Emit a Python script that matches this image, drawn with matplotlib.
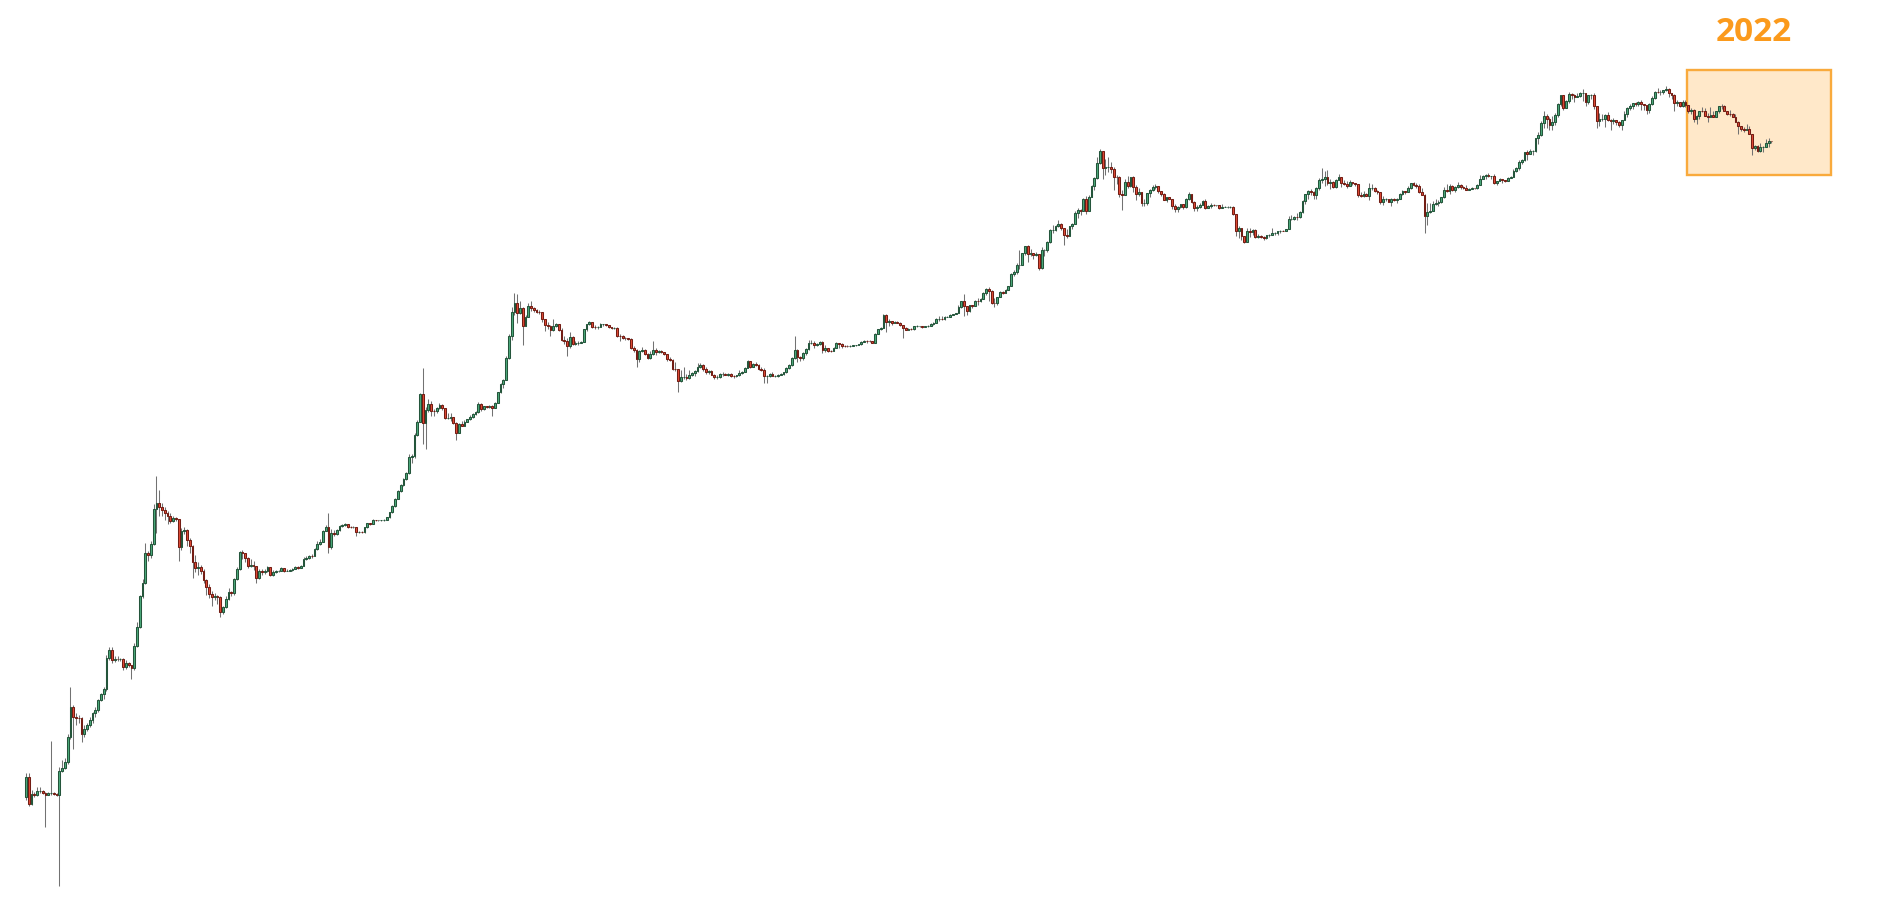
import numpy as np
import matplotlib
matplotlib.use("Agg")
import matplotlib.pyplot as plt
from matplotlib.patches import Rectangle

# Weekly BTC/USD candles, one tuple per week: (close, high, low).
# Weeks start on Mondays; the first week is 2010-07-12. Each week opens at
# the previous week's close.
first_open = 0.058

weeks_2010 = [
    (0.085, 0.092, 0.055), (0.050, 0.092, 0.048), (0.061, 0.066, 0.049), (0.0605, 0.064, 0.058),
    (0.065, 0.070, 0.059), (0.0655, 0.070, 0.063), (0.0625, 0.067, 0.061), (0.0605, 0.064, 0.032),
    (0.062, 0.0635, 0.060), (0.0622, 0.174, 0.060), (0.0615, 0.064, 0.060), (0.0605, 0.063, 0.059),
    (0.0964, 0.105, 0.010), (0.1016, 0.120, 0.094), (0.1145, 0.125, 0.100), (0.190, 0.200, 0.110),
    (0.338, 0.500, 0.180), (0.277, 0.350, 0.150), (0.275, 0.300, 0.240), (0.272, 0.290, 0.250),
    (0.198, 0.280, 0.170), (0.222, 0.240, 0.190), (0.238, 0.250, 0.210), (0.263, 0.280, 0.230),
    (0.300, 0.310, 0.250),
]
weeks_2011 = [
    (0.32, 0.34, 0.28), (0.39, 0.40, 0.31), (0.436, 0.45, 0.38), (0.48, 0.50, 0.40),
    (0.885, 0.95, 0.47), (1.04, 1.10, 0.86), (0.857, 1.10, 0.80), (0.874, 0.93, 0.82),
    (0.868, 0.92, 0.84), (0.87, 0.90, 0.84), (0.741, 0.90, 0.70), (0.80, 0.86, 0.72),
    (0.776, 0.82, 0.75), (0.727, 0.78, 0.585), (1.13, 1.20, 0.70), (1.65, 1.80, 1.10),
    (3.02, 3.10, 1.60), (3.87, 4.2, 2.9), (6.99, 8.5, 3.8), (6.72, 7.3, 6.0),
    (8.34, 9.0, 6.4), (16.7, 18.6, 8.3), (18.7, 32.0, 10.5), (17.4, 24.3, 14.5),
    (16.5, 19.0, 14.5), (15.6, 17.5, 13.5), (14.7, 16.2, 12.5), (13.2, 15.5, 12.8),
    (13.9, 14.5, 12.9), (13.7, 14.3, 13.2), (7.96, 13.6, 6.0), (10.8, 11.5, 7.5),
    (11.0, 11.8, 10.2), (9.08, 11.2, 8.0), (8.13, 9.4, 7.0), (5.86, 8.3, 4.3),
    (5.20, 6.8, 4.8), (5.35, 5.9, 4.6), (4.94, 5.6, 4.7), (4.11, 5.1, 3.9),
    (3.58, 4.2, 3.1), (3.12, 3.8, 2.9), (2.96, 3.3, 2.5), (3.02, 3.2, 2.8),
    (2.98, 3.1, 2.6), (2.19, 3.0, 2.0), (2.45, 2.5, 2.1), (2.83, 3.0, 2.4),
    (3.24, 3.5, 2.8), (3.18, 3.3, 3.0), (4.19, 4.3, 3.1), (5.11, 5.3, 4.1),
]
weeks_2012 = [
    (7.13, 7.3, 5.0), (7.0, 7.4, 6.2), (6.34, 7.1, 5.9), (5.48, 6.5, 5.2),
    (5.6, 6.3, 5.3), (5.44, 6.0, 5.0), (4.33, 5.5, 3.9), (4.94, 5.1, 4.2),
    (4.84, 5.1, 4.6), (4.95, 5.1, 4.7), (5.31, 5.4, 4.8), (4.60, 5.35, 4.5),
    (4.87, 5.0, 4.5), (4.90, 5.0, 4.75), (4.94, 5.05, 4.8), (5.20, 5.3, 4.9),
    (4.97, 5.2, 4.85), (4.98, 5.1, 4.9), (5.00, 5.1, 4.9), (5.14, 5.2, 4.95),
    (5.30, 5.4, 5.1), (5.25, 5.4, 5.1), (5.48, 5.6, 5.2), (6.25, 6.5, 5.4),
    (6.41, 6.6, 6.1), (6.63, 6.8, 6.3), (6.60, 6.9, 6.4), (7.61, 7.8, 6.6),
    (8.34, 8.9, 7.5), (8.79, 9.3, 8.2), (10.8, 11.0, 8.7), (11.7, 12.2, 10.8),
    (7.87, 15.4, 7.1), (10.5, 11.3, 7.6), (10.2, 11.0, 9.9), (11.1, 11.3, 10.0),
    (12.0, 12.2, 10.9), (12.2, 12.5, 11.8), (12.4, 12.6, 12.0), (11.8, 12.5, 11.5),
    (11.7, 12.0, 11.5), (11.7, 11.9, 11.5), (10.6, 11.8, 9.9), (10.7, 10.9, 10.4),
    (10.6, 10.9, 10.4), (11.7, 11.8, 10.5), (12.6, 12.7, 11.6), (12.5, 12.7, 12.3),
    (13.5, 13.7, 12.4), (13.4, 13.6, 13.2), (13.5, 13.6, 13.3), (13.5, 13.6, 13.3),
]
weeks_2013 = [
    (13.6, 13.8, 13.3), (14.2, 14.4, 13.5), (15.7, 15.9, 14.1), (17.6, 18.2, 15.5),
    (20.5, 20.8, 17.5), (24.0, 24.5, 20.3), (26.7, 27.5, 23.5), (30.0, 31.0, 26.5),
    (33.8, 34.5, 29.5), (46.2, 49, 33.5), (47.5, 49, 41), (71.8, 74, 46),
    (93.3, 96, 70), (161, 165, 93), (91.5, 267, 60), (117, 125, 55),
    (131, 145, 112), (116, 140, 104), (114, 120, 105), (121, 125, 110),
    (130, 134, 119), (121, 131, 118), (99.7, 123, 99), (101, 110, 98),
    (102, 111, 95), (91.5, 103, 89), (74.2, 92, 65), (89.2, 91, 74),
    (86.3, 95, 85), (93.0, 96, 86), (97.8, 99, 93), (102, 106, 97),
    (108, 110, 101), (112, 115, 107), (132, 138, 111), (119, 134, 114),
    (126, 128, 118), (125, 128, 123), (127, 130, 122), (123, 130, 104),
    (136, 138, 122), (166, 168, 135), (196, 200, 165), (212, 216, 180),
    (325, 340, 210), (504, 520, 320), (809, 900, 470), (959, 1167, 760),
    (788, 1150, 650), (869, 1000, 780), (614, 900, 422), (738, 760, 610),
]
weeks_2014 = [
    (910, 960, 730), (869, 1000, 830), (841, 900, 800), (813, 860, 790),
    (803, 840, 780), (700, 810, 660), (626, 705, 560), (610, 660, 580),
    (567, 620, 500), (618, 700, 560), (634, 650, 600), (567, 640, 560),
    (466, 590, 460), (459, 500, 430), (414, 480, 340), (491, 540, 400),
    (430, 505, 420), (442, 455, 420), (442, 455, 425), (448, 455, 435),
    (574, 580, 445), (634, 640, 560), (659, 680, 620), (606, 665, 590),
    (598, 620, 580), (606, 612, 580), (634, 650, 600), (634, 640, 615),
    (624, 635, 610), (600, 625, 590), (588, 600, 575), (590, 600, 575),
    (501, 600, 490), (500, 520, 460), (485, 510, 475), (480, 490, 465),
    (477, 485, 470), (400, 480, 390), (385, 415, 370), (320, 390, 275),
    (378, 385, 300), (385, 405, 370), (354, 390, 350), (325, 360, 320),
    (355, 375, 320), (385, 460, 350), (368, 395, 350), (378, 385, 360),
    (365, 385, 360), (354, 370, 345), (320, 355, 310), (317, 335, 310),
]
weeks_2015 = [
    (264, 320, 260), (262, 300, 255), (209, 265, 166), (226, 260, 205),
    (226, 275, 215), (222, 240, 212), (234, 260, 215), (244, 250, 230),
    (254, 260, 230), (274, 296, 250), (285, 298, 270), (262, 290, 255),
    (247, 275, 240), (253, 260, 240), (236, 260, 232), (223, 240, 215),
    (226, 236, 217), (239, 243, 220), (240, 246, 230), (236, 245, 232),
    (240, 242, 230), (230, 241, 227), (229, 233, 220), (234, 236, 226),
    (244, 256, 230), (250, 255, 240), (270, 273, 250), (310, 315, 266),
    (275, 310, 270), (289, 295, 274), (285, 300, 280), (265, 290, 260),
    (260, 275, 255), (230, 267, 200), (230, 235, 200), (240, 241, 225),
    (230, 246, 228), (231, 235, 225), (234, 240, 225), (240, 242, 235),
    (246, 248, 236), (270, 273, 244), (285, 290, 265), (325, 335, 280),
    (384, 500, 320), (330, 390, 300), (325, 340, 310), (362, 370, 315),
    (390, 400, 345), (435, 470, 385), (440, 465, 430), (420, 460, 400),
]
weeks_2016 = [
    (430, 440, 415), (448, 460, 425), (382, 455, 360), (400, 420, 365),
    (376, 400, 365), (374, 380, 365), (400, 405, 372), (438, 445, 400),
    (432, 440, 400), (416, 440, 400), (414, 420, 405), (410, 418, 405),
    (417, 420, 405), (420, 425, 410), (421, 424, 417), (429, 432, 418),
    (452, 455, 426), (460, 470, 445), (459, 464, 440), (457, 462, 448),
    (442, 457, 435), (528, 530, 438), (576, 580, 525), (590, 600, 570),
    (765, 780, 590), (670, 770, 550), (675, 705, 615), (650, 680, 630),
    (664, 680, 645), (655, 675, 645), (624, 660, 615), (587, 630, 480),
    (570, 600, 565), (581, 585, 565), (574, 585, 565), (608, 612, 570),
    (609, 625, 600), (610, 612, 600), (601, 612, 594), (612, 616, 600),
    (617, 620, 606), (641, 645, 614), (655, 660, 630), (702, 720, 655),
    (704, 740, 680), (703, 745, 690), (730, 750, 690), (736, 750, 725),
    (766, 775, 730), (778, 780, 755), (790, 795, 770), (892, 930, 790),
]
weeks_2017 = [
    (1000, 1005, 880), (910, 1150, 750), (822, 910, 760), (921, 930, 815),
    (915, 925, 880), (1013, 1030, 910), (998, 1070, 930), (1052, 1060, 990),
    (1180, 1200, 1050), (1270, 1290, 1130), (1230, 1330, 1000), (970, 1250, 950),
    (960, 1060, 890), (1080, 1090, 930), (1190, 1210, 1075), (1170, 1215, 1150),
    (1240, 1260, 1165), (1350, 1360, 1235), (1720, 1730, 1345), (1780, 1850, 1650),
    (2040, 2100, 1700), (2050, 2760, 1900), (2570, 2600, 2050), (2950, 2980, 2480),
    (2510, 3000, 2150), (2570, 2780, 2450), (2500, 2600, 2300), (2510, 2650, 2430),
    (1930, 2550, 1840), (2750, 2900, 1900), (2760, 2800, 2450), (3220, 3270, 2620),
    (4050, 4100, 3160), (4090, 4480, 3850), (4350, 4460, 3950), (4600, 4980, 4330),
    (4200, 4700, 4050), (3700, 4240, 3000), (3600, 4100, 3500), (4380, 4400, 3580),
    (4600, 4630, 4150), (5700, 5850, 4570), (6000, 6200, 5100), (5900, 6100, 5400),
    (7400, 7600, 5900), (5950, 7900, 5600), (7800, 8100, 5850), (9700, 9800, 7700),
    (11200, 11500, 9000), (15200, 17000, 11000), (19100, 19800, 15000), (13800, 19100, 11000),
    (13900, 16500, 12000),
]
weeks_2018 = [
    (14000, 17200, 12800), (13600, 15500, 12500), (11600, 14000, 9000), (11500, 12000, 10100),
    (8200, 11800, 7800), (8100, 8900, 6000), (10400, 11000, 8000), (9600, 11800, 9300),
    (11500, 11600, 9400), (9500, 11700, 8500), (8200, 9900, 7300), (8500, 9200, 7900),
    (6900, 8500, 6500), (6900, 7500, 6500), (8350, 8400, 6600), (8900, 9100, 7800),
    (9400, 9750, 8700), (9650, 9950, 9100), (8700, 9650, 8400), (8250, 8800, 7950),
    (7350, 8400, 7250), (7700, 7750, 7050), (7500, 7800, 7400), (6500, 7000, 6150),
    (6150, 6800, 5800), (6350, 6500, 5800), (6750, 6800, 6300), (6350, 6700, 6100),
    (7400, 7600, 6300), (8200, 8500, 7300), (7050, 8250, 6900), (6300, 7150, 5900),
    (6400, 6600, 5900), (6700, 6880, 6300), (7200, 7350, 6700), (6200, 7400, 6100),
    (6500, 6580, 6200), (6700, 6850, 6250), (6600, 6750, 6450), (6600, 6700, 6450),
    (6300, 6650, 6150), (6400, 6750, 6300), (6400, 6500, 6350), (6400, 6550, 6300),
    (6400, 6550, 6300), (5600, 6500, 5400), (3950, 5600, 3600), (4200, 4400, 3500),
    (3600, 4200, 3350), (3200, 3620, 3150), (4000, 4200, 3200), (3900, 4200, 3550),
]
weeks_2019 = [
    (4050, 4150, 3700), (3550, 4100, 3500), (3600, 3750, 3500), (3550, 3680, 3450),
    (3450, 3580, 3350), (3650, 3700, 3380), (3650, 3720, 3550), (3800, 4200, 3650),
    (3850, 3900, 3700), (3950, 3980, 3680), (4000, 4050, 3800), (3990, 4080, 3950),
    (4100, 4150, 3950), (5050, 5350, 4100), (5050, 5450, 4950), (5280, 5350, 4950),
    (5200, 5650, 4950), (5800, 5850, 5150), (7200, 7300, 5650), (8200, 8300, 6800),
    (8750, 8950, 7450), (8550, 9100, 8100), (8000, 8700, 7450), (9300, 9400, 7500),
    (10900, 11300, 8950), (11000, 13800, 10300), (11500, 12900, 9700), (10200, 13200, 9900),
    (10500, 11100, 9100), (9500, 10600, 9200), (10800, 11000, 9300), (11500, 12300, 10800),
    (10300, 11500, 9500), (10100, 10900, 9800), (9600, 10600, 9350), (10400, 10900, 9600),
    (10300, 10450, 9900), (9980, 10300, 9700), (8100, 10000, 7750), (7900, 8500, 7750),
    (8300, 8800, 7800), (7950, 8400, 7900), (9200, 10300, 7300), (9200, 9950, 8900),
    (8800, 9500, 8600), (8500, 8900, 8300), (7100, 8500, 6800), (7400, 7900, 6600),
    (7500, 7650, 7200), (7100, 7450, 7050), (7500, 7600, 6450), (7300, 7650, 7150),
]
weeks_2020 = [
    (7400, 7550, 6900), (8200, 8450, 7400), (8700, 9000, 8100), (8600, 8700, 8250),
    (9350, 9550, 8550), (10150, 10200, 9150), (9900, 10500, 9700), (9700, 10200, 9300),
    (8550, 9950, 8450), (8050, 9200, 8000), (5350, 8200, 3850), (5800, 6900, 4450),
    (5900, 6950, 5700), (6800, 7200, 5850), (6900, 7450, 6600), (7100, 7300, 6500),
    (7700, 7800, 6850), (8900, 9450, 7600), (8700, 10000, 8500), (9700, 9950, 8200),
    (8900, 9850, 8700), (9450, 9600, 8650), (9750, 10400, 9300), (9400, 9950, 9100),
    (9300, 9600, 9150), (9000, 9800, 8850), (9100, 9300, 8950), (9250, 9450, 9050),
    (9200, 9300, 9100), (9900, 10000, 9150), (11100, 12000, 9900), (11700, 11900, 11000),
    (11900, 12100, 11150), (11650, 12450, 11500), (11700, 11800, 11100), (10250, 12100, 10000),
    (10650, 10700, 9900), (11100, 11200, 10600), (10750, 10850, 10150), (10650, 10950, 10400),
    (11350, 11450, 10550), (11500, 11700, 11200), (13050, 13350, 11400), (13800, 14000, 12800),
    (15500, 15950, 13300), (16000, 16400, 14900), (18700, 18800, 15800), (18200, 19450, 16200),
    (19150, 19900, 18200), (19250, 19400, 17600), (24700, 24800, 19000), (26400, 28000, 22000),
]
weeks_2021 = [
    (33000, 34800, 26000), (38200, 42000, 30000), (35800, 40100, 30400), (32300, 37800, 28800),
    (34300, 38500, 29300), (39300, 40900, 32300), (48600, 49700, 37400), (57500, 58300, 47000),
    (45200, 57500, 43000), (50900, 52600, 44900), (59000, 61700, 49300), (57600, 60500, 53300),
    (55800, 58400, 50400), (57100, 60000, 55600), (59800, 61200, 55500), (60000, 64800, 51500),
    (50100, 57500, 47000), (57800, 58000, 48800), (58200, 59500, 53000), (46400, 59600, 43800),
    (34700, 46600, 30000), (35700, 40800, 31200), (35800, 39500, 34800), (39100, 40000, 31000),
    (35600, 41300, 34800), (34700, 36000, 28800), (35300, 36600, 32700), (33800, 35100, 32100),
    (31800, 34600, 31100), (35400, 35500, 29300), (39900, 42200, 35200), (44600, 45300, 37500),
    (47000, 48100, 42800), (49300, 49800, 43900), (48800, 50500, 46300), (49900, 51000, 46500),
    (48300, 52900, 42800), (47300, 48800, 43400), (42800, 47400, 39600), (48200, 49200, 40800),
    (54900, 56600, 47100), (61500, 62900, 53900), (61300, 67000, 59600), (61300, 63700, 58000),
    (63300, 64300, 59500), (65500, 69000, 62300), (59700, 66300, 55700), (57300, 59300, 53500),
    (49400, 59100, 42000), (50100, 51900, 46800), (46700, 50300, 45600), (50800, 51900, 45600),
    (47200, 52100, 45700),
]
weeks_2022 = [
    (41900, 47500, 40600), (43100, 44500, 39600), (36300, 43500, 34000), (38200, 38900, 32900),
    (42400, 42600, 36300), (42200, 45800, 41700), (38400, 44800, 38000), (37700, 40300, 34300),
    (38800, 45400, 37300), (37800, 42600, 37200), (42000, 42300, 37600), (46800, 47000, 40500),
    (46400, 48200, 44200), (42200, 47100, 41900), (39700, 41500, 39200), (39500, 42900, 38600),
    (37700, 40800, 37600), (34100, 40000, 33700), (31300, 34400, 26700), (29500, 30700, 28700),
    (29000, 30500, 28000), (29900, 32400, 29300), (26600, 31700, 26600), (20500, 26900, 17600),
    (21000, 21800, 19700), (19300, 21500, 18700), (20800, 22400, 19000), (20800, 21000, 18900),
    (22600, 24200, 20800), (23600, 24600, 20700), (23200, 23600, 22700),
]

highlight_label = "2022"
highlight_low, highlight_high = 12000, 95000   # price band of the highlight box

# ---------------------------------------------------------------------------
segments = [weeks_2010, weeks_2011, weeks_2012, weeks_2013, weeks_2014, weeks_2015,
            weeks_2016, weeks_2017, weeks_2018, weeks_2019, weeks_2020, weeks_2021]
rows = np.array([w for seg in segments + [weeks_2022] for w in seg], dtype=float)
close, high, low = rows[:, 0], rows[:, 1], rows[:, 2]
opn = np.concatenate([[first_open], close[:-1]])
high = np.maximum(high, np.maximum(opn, close))
low = np.minimum(low, np.minimum(opn, close))
n = len(close)
x = np.arange(n)
start_2022 = n - len(weeks_2022)

fig = plt.figure(figsize=(18.77, 9.14), dpi=100)
ax = fig.add_axes([0, 0, 1, 1])
ax.set_yscale('log')

# highlight box for 2022 (one full year of weekly candles)
ax.add_patch(Rectangle((start_2022 - 0.5, highlight_low), 52, highlight_high - highlight_low,
                       facecolor='#ffe8c9', edgecolor='#f9aa3c', lw=1.7, zorder=0))
ax.text(start_2022 - 0.5 + 26 - 1.8, 10 ** 5.292, highlight_label, ha='center', va='center',
        fontsize=24, fontweight='bold', color='#fb9a1c', family=['Open Sans', 'DejaVu Sans'])

# wicks
ax.vlines(x, low, high, color='#727272', lw=0.75, zorder=1)

# bodies
up = close >= opn
bw = 0.64
ax.bar(x[up], close[up] - opn[up], bottom=opn[up], width=bw,
       color='#4caa7b', edgecolor='#24553b', lw=0.75, zorder=2)
ax.bar(x[~up], opn[~up] - close[~up], bottom=close[~up], width=bw,
       color='#e04a35', edgecolor='#731d14', lw=0.75, zorder=2)

ax.set_xlim(-26 / 2.775, (1877 - 26) / 2.775)
ax.set_ylim(10 ** -2.238, 10 ** 5.574)
ax.axis('off')

fig.savefig('out.png', dpi=100, facecolor='white')
